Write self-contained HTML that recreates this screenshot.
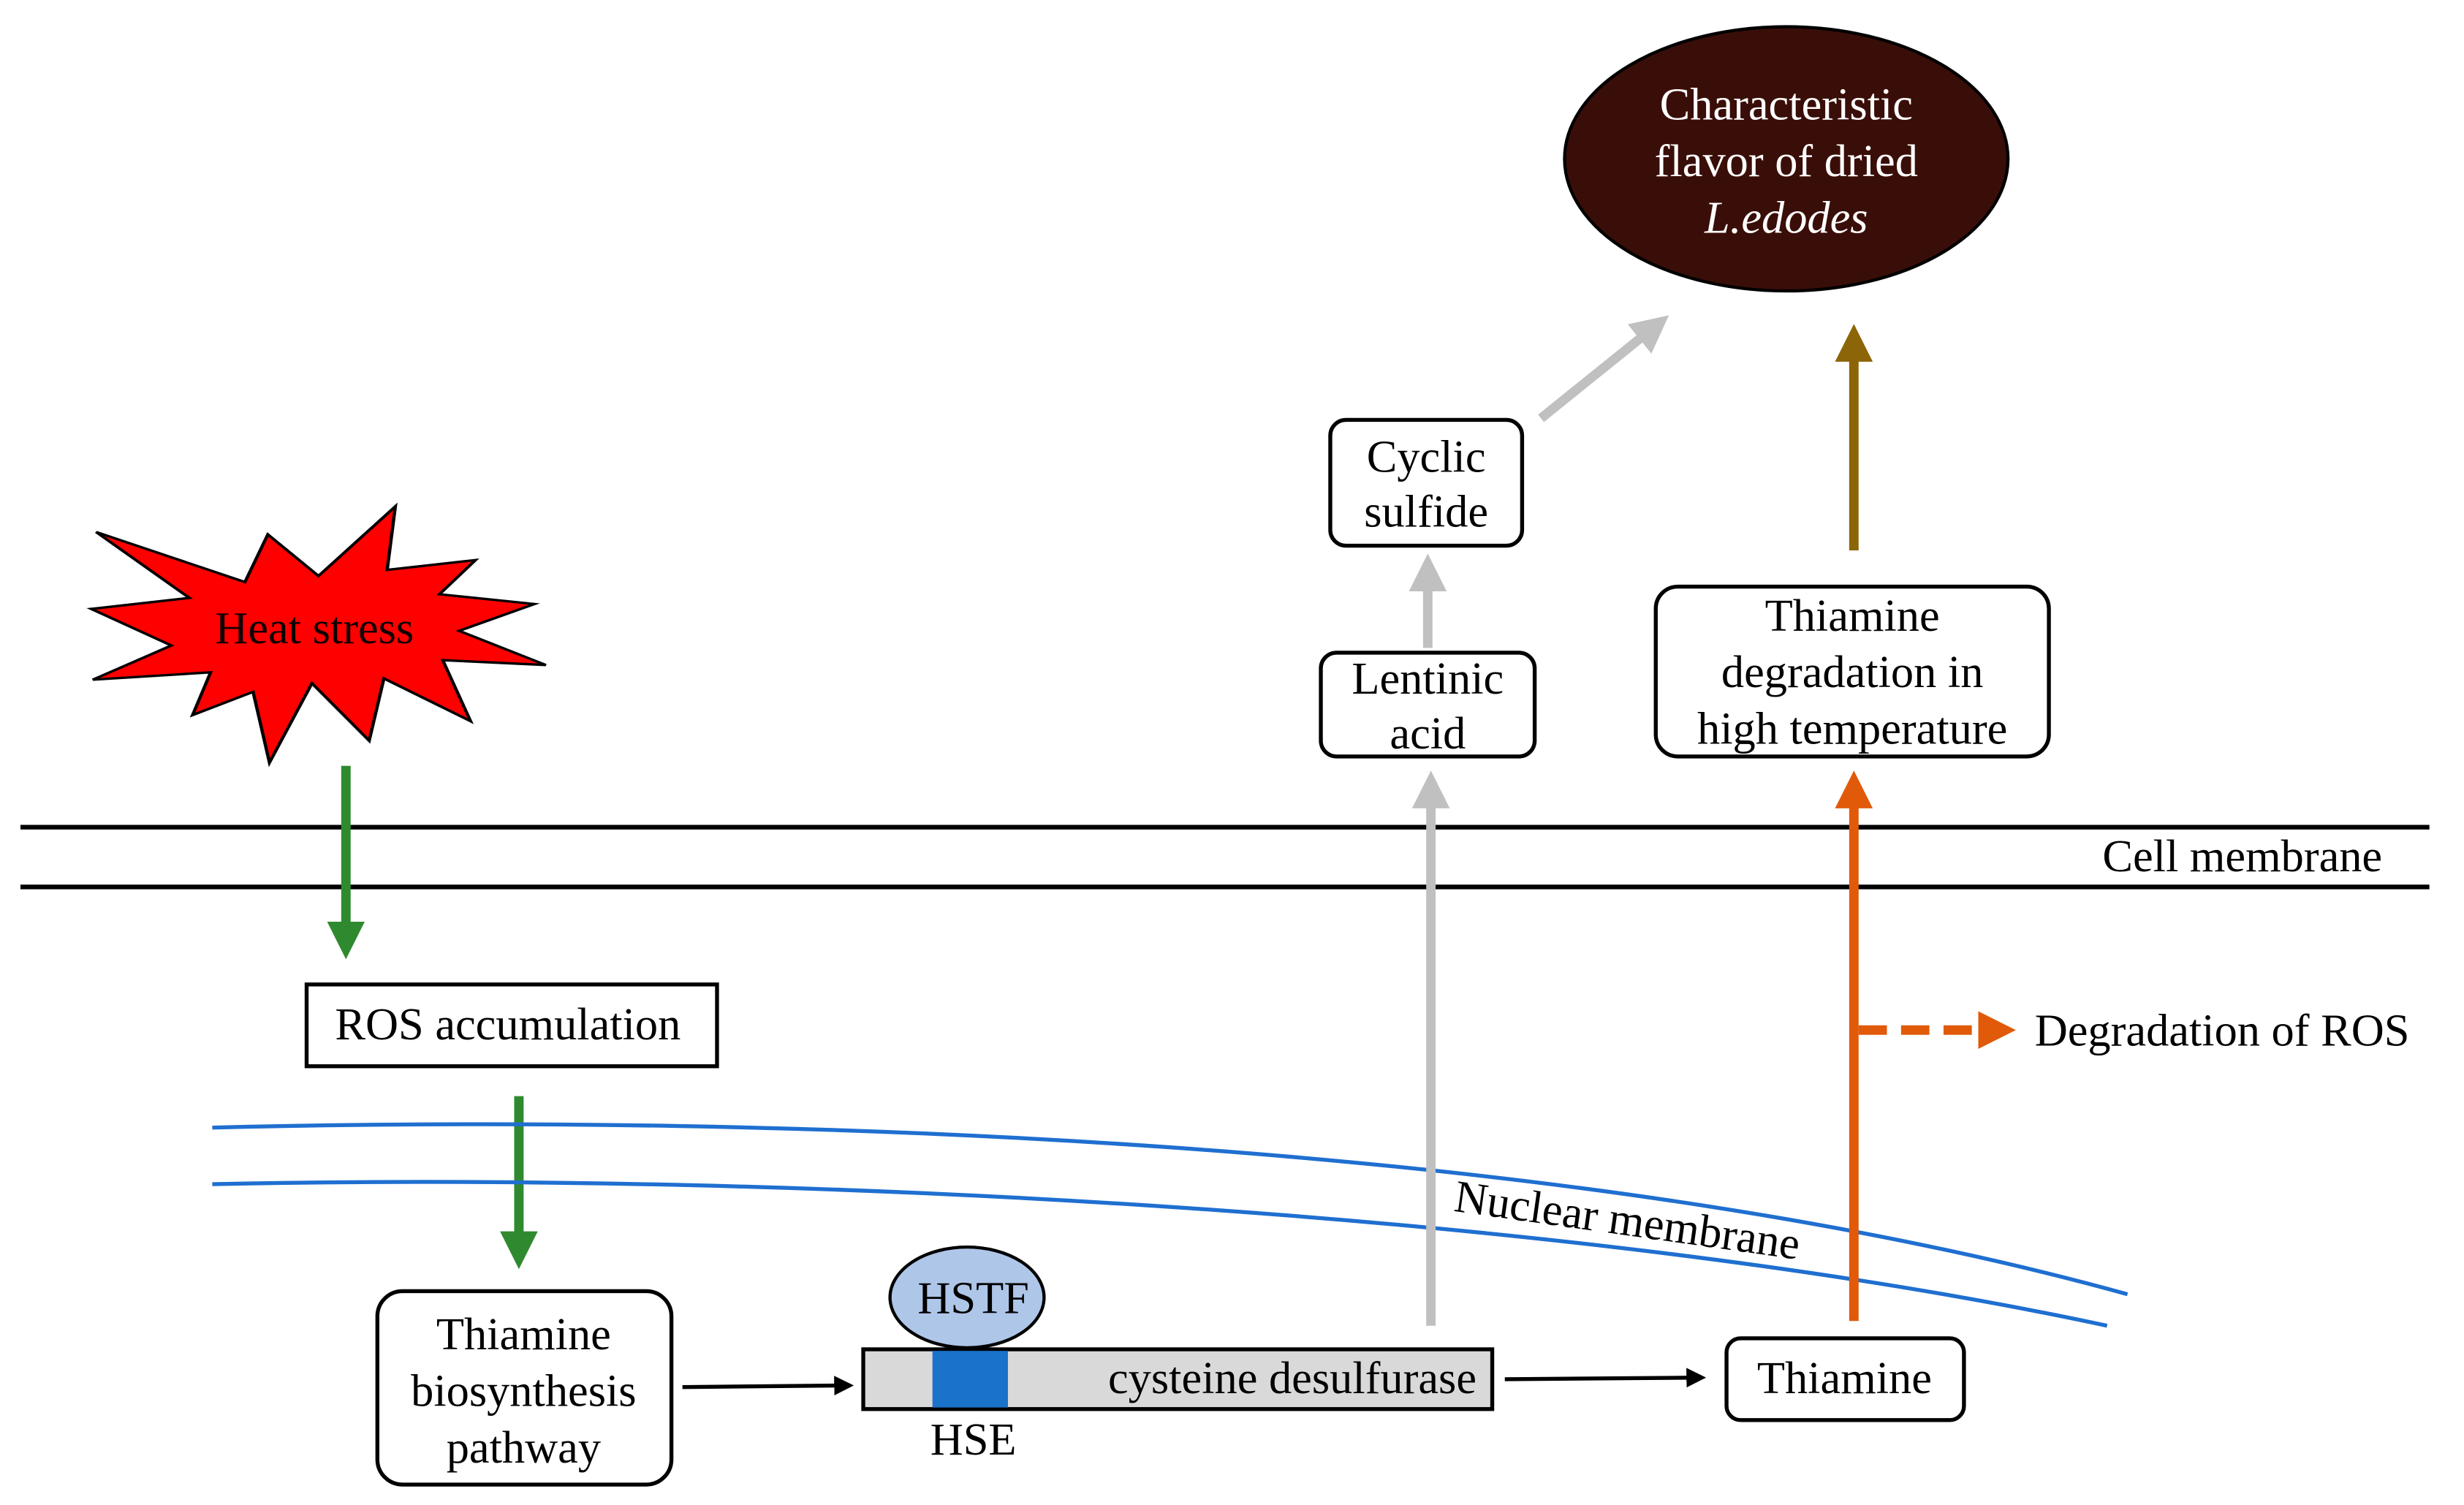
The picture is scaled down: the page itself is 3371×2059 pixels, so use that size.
<!DOCTYPE html>
<html><head><meta charset="utf-8"><style>
html,body{margin:0;padding:0;background:#fff;}
svg{display:block;}
text{font-family:"Liberation Serif",serif;font-size:29px;fill:#000;}
</style></head><body>
<svg width="3371" height="2059" viewBox="0 0 1567 957" preserveAspectRatio="none" xmlns="http://www.w3.org/2000/svg">
<defs>
<marker id="ag" markerWidth="4" markerHeight="4" refX="2" refY="2" orient="auto" markerUnits="strokeWidth"><path d="M0,0L4,2L0,4z" fill="#2f8a2f"/></marker>
<marker id="agr" markerWidth="4" markerHeight="4" refX="2" refY="2" orient="auto" markerUnits="strokeWidth"><path d="M0,0L4,2L0,4z" fill="#c0c0c0"/></marker>
<marker id="abr" markerWidth="4" markerHeight="4" refX="2" refY="2" orient="auto" markerUnits="strokeWidth"><path d="M0,0L4,2L0,4z" fill="#8c6508"/></marker>
<marker id="aor" markerWidth="4" markerHeight="4" refX="2" refY="2" orient="auto" markerUnits="strokeWidth"><path d="M0,0L4,2L0,4z" fill="#e05a0a"/></marker>
<marker id="abk" markerWidth="5" markerHeight="5" refX="3" refY="2.5" orient="auto" markerUnits="strokeWidth"><path d="M0,0L5,2.5L0,5z" fill="#000"/></marker>
</defs>

<ellipse cx="1136" cy="101" rx="141" ry="84" fill="#3a0e08" stroke="#000" stroke-width="2"/>
<text x="1136" y="76" text-anchor="middle" style="fill:#fff">Characteristic</text>
<text x="1136" y="112" text-anchor="middle" style="fill:#fff">flavor of dried</text>
<text x="1136" y="148" text-anchor="middle" style="fill:#fff;font-style:italic">L.edodes</text>

<line x1="980" y1="266" x2="1052" y2="208" stroke="#c0c0c0" stroke-width="6" marker-end="url(#agr)"/>
<line x1="1179" y1="350" x2="1179" y2="218" stroke="#8c6508" stroke-width="6" marker-end="url(#abr)"/>
<line x1="908" y1="412" x2="908" y2="364" stroke="#c0c0c0" stroke-width="6" marker-end="url(#agr)"/>

<rect x="846" y="267" width="122" height="80" rx="10" fill="#fff" stroke="#000" stroke-width="2.5"/>
<text x="907" y="300" text-anchor="middle">Cyclic</text>
<text x="907" y="335" text-anchor="middle">sulfide</text>
<rect x="840" y="415" width="136" height="66" rx="10" fill="#fff" stroke="#000" stroke-width="2.5"/>
<text x="908" y="441" text-anchor="middle">Lentinic</text>
<text x="908" y="476" text-anchor="middle">acid</text>
<rect x="1053" y="373" width="250" height="108" rx="14" fill="#fff" stroke="#000" stroke-width="2.5"/>
<text x="1178" y="401" text-anchor="middle">Thiamine</text>
<text x="1178" y="437" text-anchor="middle">degradation in</text>
<text x="1178" y="473" text-anchor="middle">high temperature</text>

<g transform="translate(58,322) scale(0.208,0.1552) translate(-55,-35)">
<polygon points="70,140 525,345 595,150 750,320 985,35 960,295 1230,255 1120,395 1410,435 1180,545 1445,685 1130,665 1215,915 950,740 905,995 730,760 600,1085 550,795 365,890 420,715 60,745 300,605 55,455 355,410" fill="#ff0000" stroke="#000" stroke-width="10" stroke-linejoin="miter"/>
</g>
<text x="200" y="409" text-anchor="middle" style="fill:#100">Heat stress</text>

<line x1="13" y1="526" x2="1545" y2="526" stroke="#000" stroke-width="3"/>
<line x1="13" y1="564" x2="1545" y2="564" stroke="#000" stroke-width="3"/>
<text x="1515" y="554" text-anchor="end">Cell membrane</text>

<line x1="220" y1="487" x2="220" y2="598" stroke="#2f8a2f" stroke-width="6" marker-end="url(#ag)"/>
<rect x="195" y="626" width="261" height="52" fill="#fff" stroke="#000" stroke-width="2.5"/>
<text x="323" y="661" text-anchor="middle">ROS accumulation</text>
<line x1="330" y1="697" x2="330" y2="795" stroke="#2f8a2f" stroke-width="6" marker-end="url(#ag)"/>

<path d="M135 717 C 500 708, 1000 725, 1353 823" fill="none" stroke="#1f6fd0" stroke-width="2.5"/>
<path d="M135 753 C 500 745, 1000 770, 1340 843" fill="none" stroke="#1f6fd0" stroke-width="2.5"/>
<text x="924" y="770" transform="rotate(8 924 770)">Nuclear membrane</text>

<line x1="910" y1="843" x2="910" y2="502" stroke="#c0c0c0" stroke-width="6" marker-end="url(#agr)"/>
<line x1="1179" y1="840" x2="1179" y2="502" stroke="#e05a0a" stroke-width="6" marker-end="url(#aor)"/>
<line x1="1182" y1="655" x2="1270" y2="655" stroke="#e05a0a" stroke-width="6" stroke-dasharray="18,9" marker-end="url(#aor)"/>
<text x="1294" y="665">Degradation of ROS</text>

<rect x="240" y="821" width="187" height="123" rx="16" fill="#fff" stroke="#000" stroke-width="2.5"/>
<text x="333" y="858" text-anchor="middle">Thiamine</text>
<text x="333" y="894" text-anchor="middle">biosynthesis</text>
<text x="333" y="930" text-anchor="middle">pathway</text>
<line x1="434" y1="882" x2="538" y2="881" stroke="#000" stroke-width="2.5" marker-end="url(#abk)"/>

<rect x="549" y="858" width="400" height="38" fill="#d9d9d9" stroke="#000" stroke-width="2.5"/>
<rect x="593" y="859" width="48" height="36" fill="#1a72c9"/>
<text x="939" y="886" text-anchor="end">cysteine desulfurase</text>
<ellipse cx="615" cy="825" rx="49" ry="32" fill="#aec6e8" stroke="#000" stroke-width="2"/>
<text x="619" y="835" text-anchor="middle">HSTF</text>
<text x="619" y="925" text-anchor="middle">HSE</text>

<line x1="957" y1="877" x2="1080" y2="876" stroke="#000" stroke-width="2.5" marker-end="url(#abk)"/>
<rect x="1098" y="851" width="151" height="52" rx="9" fill="#fff" stroke="#000" stroke-width="2.5"/>
<text x="1173" y="886" text-anchor="middle">Thiamine</text>
</svg>
</body></html>
